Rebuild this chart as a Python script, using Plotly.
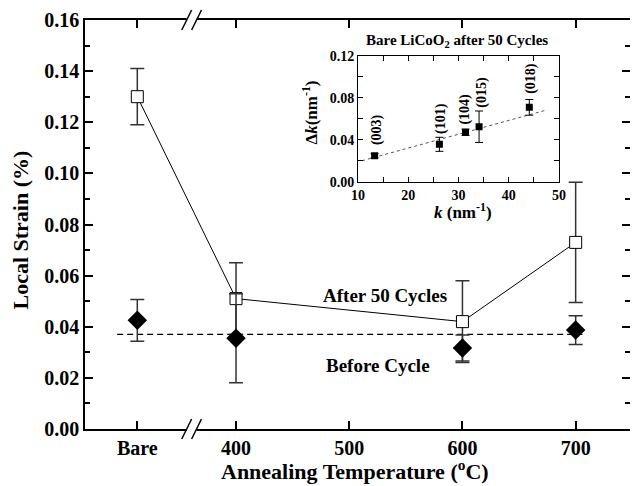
import plotly.graph_objects as go

# ---------------- data ----------------
categories = ["Bare", "400", "500", "600", "700"]
cat_pos = [312.8, 400, 500, 600, 700]

pt_pos = [312.8, 400, 600, 700]
after_strain = [0.130, 0.051, 0.042, 0.073]
after_err = [0.011, 0.014, 0.016, 0.0235]
before_strain = [0.0425, 0.0355, 0.0317, 0.0387]
before_err = [0.0082, 0.0174, 0.0051, 0.0056]

baseline_x = [295, 706]
baseline_y = [0.037, 0.037]

inset_k = [13.3, 26.2, 31.4, 34.1, 44.1]
inset_dk = [0.0248, 0.0357, 0.0472, 0.0525, 0.0710]
inset_err = [0.002, 0.0067, 0.003, 0.015, 0.0075]
inset_labels = ["(003)", "(101)", "(104)", "(015)", "(018)"]
label_k = [13.8, 26.5, 31.3, 34.6, 44.4]
label_dk = [0.0494, 0.0608, 0.0689, 0.0856, 0.0990]

fit_k = [10.8, 47.2]
fit_dk = [0.020, 0.068]

FONT = "Liberation Serif"

fig = go.Figure()

# baseline (before cycle)
fig.add_trace(go.Scatter(x=baseline_x, y=baseline_y, mode="lines",
                         line=dict(color="black", width=1.3, dash="6px,4px"),
                         hoverinfo="skip", showlegend=False))
# after 50 cycles
fig.add_trace(go.Scatter(x=pt_pos, y=after_strain, mode="lines+markers",
                         line=dict(color="black", width=1),
                         marker=dict(symbol="square", size=12, color="white",
                                     line=dict(color="black", width=1)),
                         error_y=dict(type="data", array=after_err, color="#333333",
                                      thickness=1.5, width=7),
                         showlegend=False))
# before cycle
fig.add_trace(go.Scatter(x=pt_pos, y=before_strain, mode="markers",
                         marker=dict(symbol="diamond", size=15, color="black"),
                         error_y=dict(type="data", array=before_err, color="#333333",
                                      thickness=1.5, width=7),
                         showlegend=False))
# invisible trace so the mirrored right axis (ticks only) is drawn
fig.add_trace(go.Scatter(x=pt_pos, y=after_strain, mode="markers", yaxis="y2",
                         marker=dict(opacity=0), hoverinfo="skip", showlegend=False))

# inset fit line
fig.add_trace(go.Scatter(x=fit_k, y=fit_dk, mode="lines", xaxis="x2", yaxis="y3",
                         line=dict(color="#555555", width=1, dash="dot"),
                         showlegend=False))
# inset points
fig.add_trace(go.Scatter(x=inset_k, y=inset_dk, mode="markers", xaxis="x2", yaxis="y3",
                         marker=dict(symbol="square", size=7, color="black"),
                         error_y=dict(type="data", array=inset_err, color="black",
                                      thickness=1, width=4),
                         showlegend=False))

tickfont = dict(family=FONT, size=20, color="black", weight="bold")
inset_tickfont = dict(family=FONT, size=14, color="black", weight="bold")

annotations = []
for lab, xk, yk in zip(inset_labels, label_k, label_dk):
    annotations.append(dict(x=xk, y=yk, xref="x2", yref="y3", text="<b>%s</b>" % lab,
                            textangle=-90, showarrow=False, xanchor="center", yanchor="middle",
                            font=dict(family=FONT, size=14, color="black")))

def ann(x, y, xref, yref, text, size, angle=0):
    return dict(x=x, y=y, xref=xref, yref=yref, text=text, showarrow=False,
                textangle=angle, xanchor="center", yanchor="middle",
                font=dict(family=FONT, size=size, color="black"))

annotations += [
    ann(532, 0.0524, "x", "y", "<b>After 50 Cycles</b>", 19),
    ann(525, 0.0250, "x", "y", "<b>Before Cycle</b>", 19),
    ann(-0.118, 0.487, "paper", "paper", "<b>Local Strain (%)</b>", 22, -90),
    ann(0.4955, -0.100, "paper", "paper",
        "<b>Annealing Temperature (<sup>o</sup>C)</b>", 22),
    ann(0.682, 0.9487, "paper", "paper",
        "<b>Bare LiCoO<sub>2</sub> after 50 Cycles</b>", 15),
    ann(0.413, 0.774, "paper", "paper", "<b>Δ<i>k</i>(nm<sup>-1</sup>)</b>", 17, -90),
    ann(0.694, 0.5337, "paper", "paper", "<b><i>k</i> (nm<sup>-1</sup>)</b>", 17),
]

# axis breaks "//"
def px2paper(px, py):
    return (px - 85) / 552.0, (429 - py) / 409.0

shapes = []
for py in (429, 20):
    x0, y0 = px2paper(188, py + 2)
    x1, y1 = px2paper(198, py - 2)
    shapes.append(dict(type="rect", xref="paper", yref="paper", x0=x0, y0=y0, x1=x1, y1=y1,
                       fillcolor="white", line=dict(width=0), layer="above"))
    for cx in (188, 198):
        ax, ay = px2paper(cx - 5, py + 10)
        bx, by = px2paper(cx + 5, py - 10)
        shapes.append(dict(type="line", xref="paper", yref="paper", x0=ax, y0=ay, x1=bx, y1=by,
                           line=dict(color="black", width=1.5), layer="above"))

fig.update_layout(
    width=637, height=486,
    margin=dict(l=85, r=0, t=20, b=57),
    paper_bgcolor="white", plot_bgcolor="white",
    font=dict(family=FONT, color="black"),
    xaxis=dict(range=[266.6, 748], tickvals=cat_pos, ticktext=categories,
               ticks="inside", ticklen=8, tickwidth=1.5, tickcolor="black",
               showline=True, linecolor="black", linewidth=1.5, mirror="ticks",
               showgrid=False, zeroline=False, tickfont=tickfont),
    yaxis=dict(range=[0, 0.16], dtick=0.02, tickformat=".2f",
               ticks="inside", ticklen=8, tickwidth=1.5, tickcolor="black",
               minor=dict(dtick=0.01, ticks="inside", ticklen=5, tickwidth=1.5, tickcolor="black"),
               showline=True, linecolor="black", linewidth=1.5,
               showgrid=False, zeroline=False, tickfont=tickfont),
    yaxis2=dict(range=[0, 0.16], dtick=0.02, overlaying="y", side="right", anchor="x",
                ticks="inside", ticklen=8, tickwidth=1.5, tickcolor="black",
                minor=dict(dtick=0.01, ticks="inside", ticklen=5, tickwidth=1.5, tickcolor="black"),
                showline=False, showticklabels=False, showgrid=False, zeroline=False),
    xaxis2=dict(domain=[0.501, 0.8696], anchor="y3", range=[10, 50], dtick=10,
                ticks="inside", ticklen=5, tickwidth=1, tickcolor="black",
                minor=dict(dtick=5, ticks="inside", ticklen=5, tickwidth=1, tickcolor="black"),
                showline=True, linecolor="black", linewidth=1, mirror="allticks",
                showgrid=False, zeroline=False, tickfont=inset_tickfont),
    yaxis3=dict(domain=[0.6046, 0.912], anchor="x2", range=[0, 0.12], dtick=0.04,
                tickformat=".2f",
                ticks="inside", ticklen=5, tickwidth=1, tickcolor="black",
                minor=dict(dtick=0.02, ticks="inside", ticklen=5, tickwidth=1, tickcolor="black"),
                showline=True, linecolor="black", linewidth=1, mirror="allticks",
                showgrid=False, zeroline=False, tickfont=inset_tickfont),
    annotations=annotations,
    shapes=shapes,
    showlegend=False,
)

fig.write_html("out.html", config={"displayModeBar": False},
               post_script="document.body.style.margin='0px';document.body.style.overflow='hidden';")
